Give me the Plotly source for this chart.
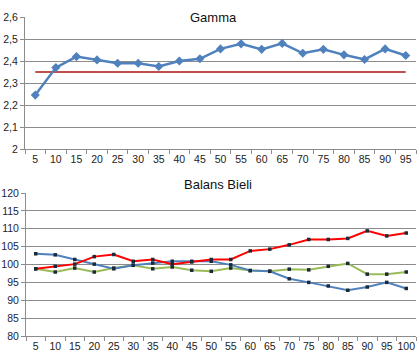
import plotly.graph_objects as go

# ---- data ----
gamma_cats = ["5", "10", "15", "20", "25", "30", "35", "40", "45", "50",
              "55", "60", "65", "70", "75", "80", "85", "90", "95"]
gamma_vals = [2.245, 2.37, 2.42, 2.405, 2.39, 2.39, 2.375, 2.40, 2.41, 2.455,
              2.478, 2.453, 2.48, 2.435, 2.453, 2.428, 2.407, 2.455, 2.425]
gamma_ref = [2.35] * len(gamma_cats)
gamma_ticks = [2.0, 2.1, 2.2, 2.3, 2.4, 2.5, 2.6]
gamma_ticktext = ["2", "2,1", "2,2", "2,3", "2,4", "2,5", "2,6"]

wb_cats = ["5", "10", "15", "20", "25", "30", "35", "40", "45", "50",
           "55", "60", "65", "70", "75", "80", "85", "90", "95", "100"]
wb_red = [98.8, 99.5, 100.1, 102.2, 102.8, 100.9, 101.4, 100.1, 100.7, 101.4,
          101.4, 103.8, 104.3, 105.5, 107.0, 107.0, 107.3, 109.4, 108.0, 108.8]
wb_green = [98.8, 97.9, 99.0, 97.9, 99.0, 99.8, 98.8, 99.3, 98.4, 98.1,
            99.0, 98.3, 98.1, 98.7, 98.5, 99.5, 100.3, 97.3, 97.3, 97.9]
wb_blue = [103.0, 102.7, 101.4, 100.1, 98.8, 99.8, 100.4, 100.9, 100.9, 100.9,
           99.9, 98.3, 98.1, 96.0, 95.0, 94.0, 92.8, 93.7, 95.0, 93.3]
wb_ticks = [80, 85, 90, 95, 100, 105, 110, 115, 120]

BLUE = "#4f81bd"
GRID = "#8c8c8c"
FONT = "Liberation Sans"

fig = go.Figure()

fig.add_trace(go.Scatter(x=gamma_cats, y=gamma_ref, mode="lines",
                         line=dict(color="#c0504d", width=2),
                         xaxis="x", yaxis="y", showlegend=False))
fig.add_trace(go.Scatter(x=gamma_cats, y=gamma_vals, mode="lines+markers",
                         line=dict(color=BLUE, width=2.5),
                         marker=dict(symbol="diamond", size=7, color=BLUE),
                         xaxis="x", yaxis="y", showlegend=False))

mk = dict(symbol="square", size=3.5, color="#1b2a3a")
fig.add_trace(go.Scatter(x=wb_cats, y=wb_green, mode="lines+markers",
                         line=dict(color="#9bbb59", width=2), marker=mk,
                         xaxis="x2", yaxis="y2", showlegend=False))
fig.add_trace(go.Scatter(x=wb_cats, y=wb_blue, mode="lines+markers",
                         line=dict(color=BLUE, width=2), marker=mk,
                         xaxis="x2", yaxis="y2", showlegend=False))
fig.add_trace(go.Scatter(x=wb_cats, y=wb_red, mode="lines+markers",
                         line=dict(color="#ff0000", width=2), marker=mk,
                         xaxis="x2", yaxis="y2", showlegend=False))

H = 357.0
ML, MR = 25, 4
W_plot = 420 - ML - MR

def dom(top_px, bot_px):
    return [(H - bot_px) / H, (H - top_px) / H]

xcommon = dict(type="category", tickson="boundaries", ticks="outside",
               ticklen=4, tickcolor=GRID, showline=True, linecolor=GRID,
               linewidth=1, showgrid=False, zeroline=False, tickangle=0,
               automargin=False,
               tickfont=dict(family=FONT, size=10.5, color="#222222"))

ycommon = dict(showgrid=True, gridcolor=GRID, gridwidth=1,
               showline=True, linecolor=GRID, ticks="outside", ticklen=4,
               tickcolor=GRID, zeroline=False, automargin=False)

fig.update_layout(
    width=420, height=357,
    margin=dict(l=ML, r=MR, t=0, b=0, autoexpand=False),
    paper_bgcolor="white", plot_bgcolor="white",
    font=dict(family=FONT, size=11, color="#222222"),
    xaxis=dict(domain=[0, 1], anchor="y", range=[-0.5, len(gamma_cats) - 0.5], **xcommon),
    yaxis=dict(domain=dom(17, 149), anchor="x", range=[2.0, 2.6],
               tickvals=gamma_ticks, ticktext=gamma_ticktext,
               tickfont=dict(family=FONT, size=10.5, color="#222222"), **ycommon),
    xaxis2=dict(domain=[1 / W_plot, 1], anchor="y2", range=[-0.5, len(wb_cats) - 0.5], **xcommon),
    yaxis2=dict(domain=dom(193, 336), anchor="x2", range=[80, 120],
                tickvals=wb_ticks,
                tickfont=dict(family=FONT, size=10.5, color="#1a2540"), **ycommon),
    annotations=[
        dict(text="Gamma", x=(213 - ML) / W_plot, y=(H - 8) / H,
             xref="paper", yref="paper", showarrow=False,
             font=dict(family=FONT, size=13, color="#111111")),
        dict(text="Balans Bieli", x=(218 - ML) / W_plot, y=(H - 185) / H,
             xref="paper", yref="paper", showarrow=False,
             font=dict(family=FONT, size=13, color="#111111")),
    ],
)

fig.write_html("out.html", config={"displayModeBar": False},
               post_script="document.body.style.margin='0';document.body.style.overflow='hidden';")
